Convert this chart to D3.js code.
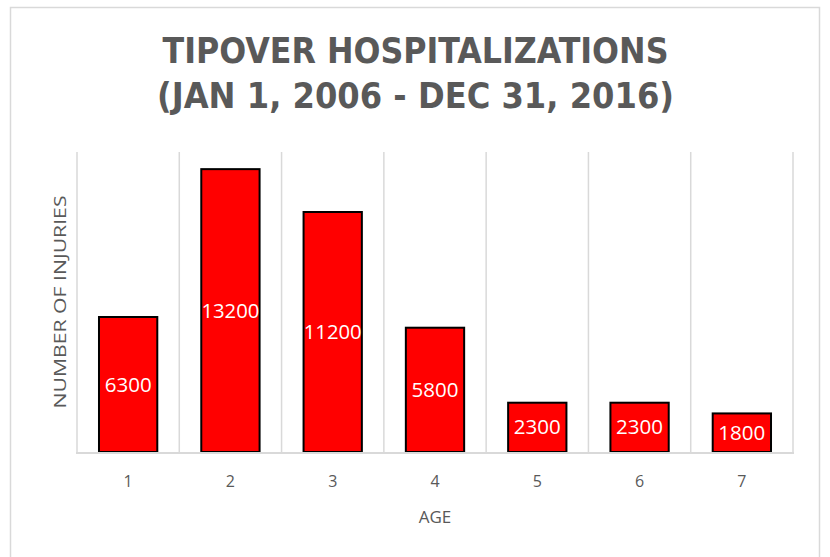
<!DOCTYPE html>
<html><head><meta charset="utf-8">
<script src="https://cdn.jsdelivr.net/npm/d3@7"></script>
<style>body{margin:0;background:#fff}svg{display:block}</style>
</head><body>
<script>
const categories = ["1","2","3","4","5","6","7"];
const values = [6300, 13200, 11200, 5800, 2300, 2300, 1800];
const titleLines = ["TIPOVER HOSPITALIZATIONS", "(JAN 1, 2006 - DEC 31, 2016)"];
const xTitle = "AGE";
const yTitle = "NUMBER OF INJURIES";

const W = 830, H = 557;
const svg = d3.select("body").append("svg").attr("width", W).attr("height", H);
const font = "'Open Sans', 'Liberation Sans', sans-serif";
const titleFont = "'DejaVu Sans Condensed', 'Open Sans', sans-serif";
const gray = "#595959";

svg.append("rect").attr("x", 10.5).attr("y", 7.5).attr("width", 809).attr("height", 560)
  .attr("fill", "#fff").attr("stroke", "#d9d9d9").attr("stroke-width", 1.5);

const plot = {l: 77, r: 793, t: 152, b: 452};
const x = d3.scaleBand().domain(categories).range([plot.l, plot.r]).paddingInner(0.43).paddingOuter(0.215);
const xg = d3.scaleBand().domain(categories).range([plot.l, plot.r]);
const y = d3.scaleLinear().domain([0, 14000]).range([plot.b, plot.t]);

// vertical gridlines (category boundaries)
const bounds = categories.map(c => xg(c)).concat([plot.r]);
svg.append("g").selectAll("line").data(bounds).join("line")
  .attr("x1", d => d).attr("x2", d => d).attr("y1", plot.t).attr("y2", plot.b)
  .attr("stroke", "#d9d9d9").attr("stroke-width", 1.5);

// bars
svg.append("g").selectAll("rect").data(values).join("rect")
  .attr("x", (d, i) => x(categories[i]))
  .attr("y", d => y(d))
  .attr("width", x.bandwidth())
  .attr("height", d => y(0) - y(d))
  .attr("fill", "#ff0000").attr("stroke", "#000").attr("stroke-width", 2);

// baseline
svg.append("line").attr("x1", plot.l - 1).attr("x2", plot.r + 1).attr("y1", plot.b + 1).attr("y2", plot.b + 1)
  .attr("stroke", "#d9d9d9").attr("stroke-width", 2);

// data labels
svg.append("g").selectAll("text").data(values).join("text")
  .attr("x", (d, i) => x(categories[i]) + x.bandwidth() / 2)
  .attr("y", d => (y(d) + y(0)) / 2)
  .attr("dy", "0.35em")
  .attr("text-anchor", "middle")
  .attr("fill", "#fff").attr("font-family", font).attr("font-size", 20)
  .attr("textLength", d => d >= 10000 ? 58 : 47).attr("lengthAdjust", "spacingAndGlyphs")
  .text(d => d);

// x axis labels
const xAxis = d3.axisBottom(xg).tickSize(0).tickPadding(0);
const gx = svg.append("g").attr("transform", `translate(0,${plot.b})`).call(xAxis);
gx.select(".domain").remove();
gx.selectAll("text").attr("y", 29).attr("dy", "0.35em").attr("fill", gray)
  .attr("font-family", font).attr("font-size", 16);

svg.append("text").attr("x", (plot.l + plot.r) / 2).attr("y", 517).attr("dy", "0.35em")
  .attr("text-anchor", "middle").attr("fill", gray).attr("font-family", font).attr("font-size", 17)
  .text(xTitle);

svg.append("text").attr("transform", `translate(60,${(plot.t + plot.b) / 2}) rotate(-90)`)
  .attr("dy", "0.35em").attr("text-anchor", "middle").attr("fill", gray)
  .attr("font-family", font).attr("font-size", 17).attr("textLength", 213).attr("lengthAdjust", "spacingAndGlyphs")
  .text(yTitle);

// title
const tl = [[63, 506], [108, 517]];
svg.append("g").selectAll("text").data(titleLines).join("text")
  .attr("x", 415.5).attr("y", (d, i) => tl[i][0])
  .attr("text-anchor", "middle").attr("fill", gray)
  .attr("font-family", titleFont).attr("font-weight", "bold").attr("font-size", 35)
  .attr("textLength", (d, i) => tl[i][1]).attr("lengthAdjust", "spacingAndGlyphs")
  .text(d => d);
</script>
</body></html>
